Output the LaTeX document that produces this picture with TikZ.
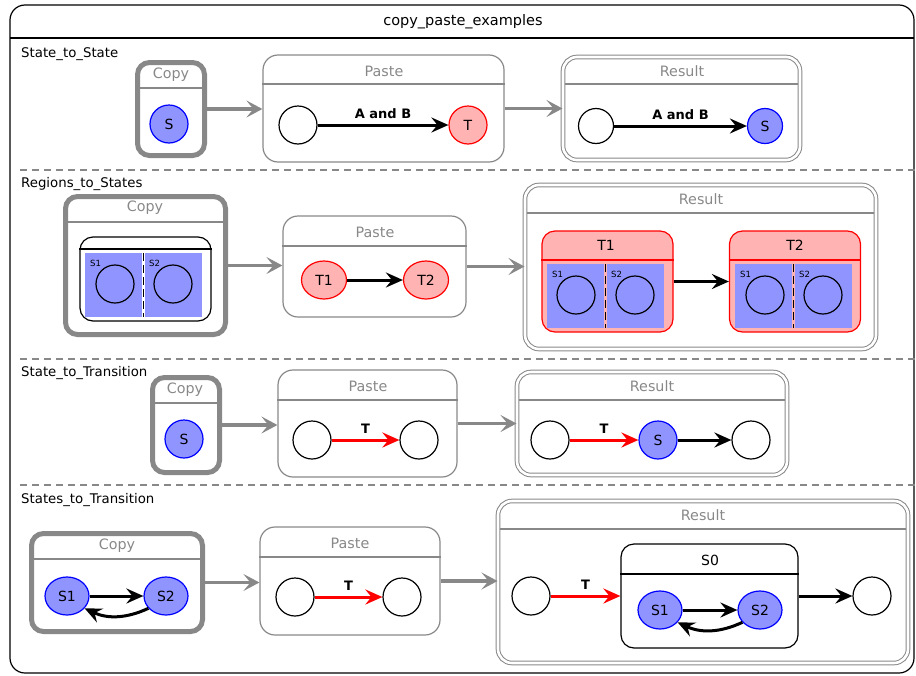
\documentclass[tikz,border=0pt]{standalone}
\usepackage{xcolor}
\usepackage{fontspec}
\setmainfont{DejaVu Sans}
\usepackage{tikz}
\usetikzlibrary{arrows.meta,shapes.geometric}
\definecolor{stblue}{RGB}{143,148,255}
\definecolor{stpink}{RGB}{255,179,179}
\definecolor{stgray}{RGB}{136,136,136}

\begin{document}
\begin{tikzpicture}[x=1pt,y=1pt]
        \tikzstyle{every node}+=[inner sep=0pt]
        \tikzstyle{titletext}=[font=\fontsize{14.5}{16}\selectfont]
        \tikzstyle{rowtext}=[anchor=base west, font=\fontsize{13.3}{15}\selectfont]
        \tikzstyle{hdr}=[text=stgray, font=\fontsize{14.3}{16}\selectfont]
        \tikzstyle{sttext}=[font=\fontsize{14}{15}\selectfont]
        \tikzstyle{regtext}=[anchor=west, font=\fontsize{8.5}{9}\selectfont]
        \tikzstyle{elabel}=[above=5pt, font=\bfseries\fontsize{13}{15}\selectfont]
        \tikzstyle{copybox}=[draw=stgray, line width=5pt, rounded corners=12pt]
        \tikzstyle{pastebox}=[draw=stgray, line width=1.2pt, rounded corners=15pt]
        \tikzstyle{resultbox}=[draw=stgray, line width=1pt, double=white, double distance=2.6pt, rounded corners=14pt]
        \tikzstyle{hdrline}=[stgray, line width=1.2pt]
        \tikzstyle{blankstate}=[circle, draw=black, fill=white, line width=1.2pt, minimum size=38pt]
        \tikzstyle{regcircle}=[circle, draw=black, line width=1.2pt, minimum size=38pt]
        \tikzstyle{bluestate}=[circle, draw=blue, fill=stblue, line width=1.2pt, minimum size=38pt, sttext]
        \tikzstyle{redstate}=[circle, draw=red, fill=stpink, line width=1.2pt, minimum size=38pt, sttext]
        \tikzstyle{blueell}=[ellipse, draw=blue, fill=stblue, line width=1.2pt, minimum width=44pt, minimum height=38pt, sttext]
        \tikzstyle{redell}=[ellipse, draw=red, fill=stpink, line width=1.2pt, minimum width=45pt, minimum height=38pt, sttext]
        \tikzstyle{redcomp}=[draw=red, fill=stpink, line width=1.2pt, rounded corners=13pt]
        \tikzstyle{blackcomp}=[draw=black, fill=white, line width=1.2pt, rounded corners=13pt]
        \tikzstyle{regsep}=[black, line width=1.2pt, dash pattern=on 8pt off 4pt]
        \tikzstyle{sep}=[stgray, line width=1.2pt, dash pattern=on 7pt off 5pt]
        \tikzstyle{trans}=[draw=black, line width=3pt, -{Stealth[length=17pt, width=15pt, inset=6pt]}]
        \tikzstyle{redtrans}=[trans, draw=red, fill=red]
        \tikzstyle{flow}=[draw=stgray, line width=3.5pt, -{Stealth[length=16pt, width=17pt, inset=7pt]}]
        \useasboundingbox (0,0) rectangle (916,-675);
        \draw [black, line width=1.2pt, rounded corners=15pt] (10,-5) rectangle (914,-673);
        \draw [black, line width=1.2pt] (10,-38) -- (914,-38);
        \node [titletext] (title) at (463,-22) {copy\_paste\_examples};
        \draw [sep] (20,-170) -- (916,-170);
        \draw [sep] (20,-359) -- (916,-359);
        \draw [sep] (20,-485) -- (916,-485);
        \node [rowtext] (rowA) at (21,-57) {State\_to\_State};
        \node [rowtext] (rowB) at (21,-187) {Regions\_to\_States};
        \node [rowtext] (rowC) at (21,-376) {State\_to\_Transition};
        \node [rowtext] (rowD) at (21,-503) {States\_to\_Transition};
        % State_to_State
        \node [copybox, minimum width=67pt, minimum height=93pt] (copyA) at (171,-109) {};
        \draw [hdrline] (copyA.west |- 0,-88) -- (copyA.east |- 0,-88);
        \node [hdr] (copyAt) at (171,-75) {Copy};
        \node [bluestate] (copyAs) at (169,-124) {S};
        \node [pastebox, minimum width=241pt, minimum height=107pt] (pasteA) at (383.5,-108.5) {};
        \draw [hdrline] (pasteA.west |- 0,-84) -- (pasteA.east |- 0,-84);
        \node [hdr] (pasteAt) at (384,-71) {Paste};
        \node [blankstate] (pasteAa) at (298,-125) {};
        \node [redstate] (pasteAb) at (468,-125) {T};
        \draw [trans] (pasteAa) -- node [elabel] {A and B} (pasteAb);
        \node [resultbox, minimum width=237pt, minimum height=103pt] (resA) at (681.5,-108.5) {};
        \draw [hdrline, shorten <=2.3pt, shorten >=2.3pt] (resA.west |- 0,-84) -- (resA.east |- 0,-84);
        \node [hdr] (resAt) at (682,-71) {Result};
        \node [blankstate, minimum size=35pt] (resAa) at (596,-126) {};
        \node [bluestate, minimum size=35pt] (resAb) at (765,-126) {S};
        \draw [trans] (resAa) -- node [elabel] {A and B} (resAb);
        \draw [flow] (copyA.east) -- (copyA.east -| pasteA.west);
        \draw [flow] (pasteA.east) -- (pasteA.east -| resA.west);
        % Regions_to_States
        \node [copybox, minimum width=160pt, minimum height=138pt] (copyB) at (145.5,-265.5) {};
        \draw [hdrline] (copyB.west |- 0,-222) -- (copyB.east |- 0,-222);
        \node [hdr] (copyBt) at (145,-208) {Copy};
        \node [blackcomp, minimum width=131pt, minimum height=84pt] (copyBr) at (145.5,-279) {};
        \draw [black, line width=1.2pt] (copyBr.west |- 0,-249) -- (copyBr.east |- 0,-249);
        \fill [stblue] (85,-253) rectangle (142,-317);
        \fill [stblue] (145,-253) rectangle (202,-317);
        \draw [regsep] (143.5,-253) -- (143.5,-317);
        \node [regtext] (copyBl1) at (90,-263) {S1};
        \node [regtext] (copyBl2) at (149,-263) {S2};
        \node [regcircle] (copyBc1) at (115,-284) {};
        \node [regcircle] (copyBc2) at (173,-284) {};
        \node [pastebox, minimum width=183pt, minimum height=101pt] (pasteB) at (374.5,-266.5) {};
        \draw [hdrline] (pasteB.west |- 0,-246) -- (pasteB.east |- 0,-246);
        \node [hdr] (pasteBt) at (375,-232) {Paste};
        \node [redell] (pasteBa) at (324,-280) {T1};
        \node [redell] (pasteBb) at (426,-280) {T2};
        \draw [trans] (pasteBa) -- (pasteBb);
        \node [resultbox, minimum width=351pt, minimum height=164pt] (resB) at (700.5,-267) {};
        \draw [hdrline, shorten <=2.3pt, shorten >=2.3pt] (resB.west |- 0,-213) -- (resB.east |- 0,-213);
        \node [hdr] (resBt) at (701,-199) {Result};
        \node [redcomp, minimum width=131pt, minimum height=101pt] (resBa) at (607.5,-281.5) {};
        \draw [red, line width=1.2pt] (resBa.west |- 0,-260) -- (resBa.east |- 0,-260);
        \node [sttext] (resBat) at (606,-245) {T1};
        \fill [stblue] (547,-264) rectangle (604,-328);
        \fill [stblue] (607,-264) rectangle (664,-328);
        \draw [regsep] (605.5,-264) -- (605.5,-328);
        \node [regtext] (resBal1) at (552,-274) {S1};
        \node [regtext] (resBal2) at (611,-274) {S2};
        \node [regcircle] (resBac1) at (576,-295) {};
        \node [regcircle] (resBac2) at (635,-295) {};
        \node [redcomp, minimum width=131pt, minimum height=101pt] (resBb) at (795,-281.5) {};
        \draw [red, line width=1.2pt] (resBb.west |- 0,-260) -- (resBb.east |- 0,-260);
        \node [sttext] (resBbt) at (795,-245) {T2};
        \fill [stblue] (735,-264) rectangle (792,-328);
        \fill [stblue] (795,-264) rectangle (852,-328);
        \draw [regsep] (793.5,-264) -- (793.5,-328);
        \node [regtext] (resBbl1) at (740,-274) {S1};
        \node [regtext] (resBbl2) at (799,-274) {S2};
        \node [regcircle] (resBbc1) at (765,-295) {};
        \node [regcircle] (resBbc2) at (823,-295) {};
        \draw [trans] (resBa) -- (resBb);
        \draw [flow] (copyB.east) -- (copyB.east -| pasteB.west);
        \draw [flow] (pasteB.east) -- (pasteB.east -| resB.west);
        % State_to_Transition
        \node [copybox, minimum width=67pt, minimum height=95pt] (copyC) at (186,-425) {};
        \draw [hdrline] (copyC.west |- 0,-403) -- (copyC.east |- 0,-403);
        \node [hdr] (copyCt) at (185,-390) {Copy};
        \node [bluestate] (copyCs) at (184,-439) {S};
        \node [pastebox, minimum width=179pt, minimum height=107pt] (pasteC) at (367.5,-423.5) {};
        \draw [hdrline] (pasteC.west |- 0,-400) -- (pasteC.east |- 0,-400);
        \node [hdr] (pasteCt) at (368,-386) {Paste};
        \node [blankstate] (pasteCa) at (312,-440) {};
        \node [blankstate] (pasteCb) at (419,-440) {};
        \draw [redtrans] (pasteCa) -- node [elabel] {T} (pasteCb);
        \node [resultbox, minimum width=270pt, minimum height=103pt] (resC) at (652,-423.5) {};
        \draw [hdrline, shorten <=2.3pt, shorten >=2.3pt] (resC.west |- 0,-400) -- (resC.east |- 0,-400);
        \node [hdr] (resCt) at (652,-386) {Result};
        \node [blankstate] (resCa) at (550,-440) {};
        \node [bluestate] (resCs) at (658,-440) {S};
        \node [blankstate] (resCb) at (751,-440) {};
        \draw [redtrans] (resCa) -- node [elabel] {T} (resCs);
        \draw [trans] (resCs) -- (resCb);
        \draw [flow] (copyC.east) -- (copyC.east -| pasteC.west);
        \draw [flow] (pasteC.east) -- (pasteC.east -| resC.west);
        % States_to_Transition
        \node [copybox, minimum width=171pt, minimum height=98pt] (copyD) at (117,-582.5) {};
        \draw [hdrline] (copyD.west |- 0,-559) -- (copyD.east |- 0,-559);
        \node [hdr] (copyDt) at (117,-546) {Copy};
        \node [blueell] (copyDa) at (67,-596) {S1};
        \node [blueell] (copyDb) at (166,-596) {S2};
        \draw [trans] (copyDa) -- (copyDb);
        \draw [trans] (copyDb.215) to [bend left=25] (copyDa.-35);
        \node [pastebox, minimum width=180pt, minimum height=108pt] (pasteD) at (350,-581) {};
        \draw [hdrline] (pasteD.west |- 0,-557) -- (pasteD.east |- 0,-557);
        \node [hdr] (pasteDt) at (350,-543) {Paste};
        \node [blankstate] (pasteDa) at (295,-597) {};
        \node [blankstate] (pasteDb) at (402,-597) {};
        \draw [redtrans] (pasteDa) -- node [elabel] {T} (pasteDb);
        \node [resultbox, minimum width=410pt, minimum height=162pt] (resD) at (703,-582) {};
        \draw [hdrline, shorten <=2.3pt, shorten >=2.3pt] (resD.west |- 0,-529) -- (resD.east |- 0,-529);
        \node [hdr] (resDt) at (703,-515) {Result};
        \node [blackcomp, minimum width=177pt, minimum height=104pt] (resDc) at (709.5,-596) {};
        \draw [black, line width=1.2pt] (resDc.west |- 0,-574) -- (resDc.east |- 0,-574);
        \node [sttext] (resDct) at (710,-560) {S0};
        \node [blueell] (resDca) at (660,-610) {S1};
        \node [blueell] (resDcb) at (760,-610) {S2};
        \draw [trans] (resDca) -- (resDcb);
        \draw [trans] (resDcb.215) to [bend left=25] (resDca.-35);
        \node [blankstate] (resDa) at (531,-596) {};
        \node [blankstate] (resDb) at (872,-596) {};
        \draw [redtrans] (resDa) -- node [elabel] {T} (resDc);
        \draw [trans] (resDc) -- (resDb);
        \draw [flow] (copyD.east) -- (copyD.east -| pasteD.west);
        \draw [flow] (pasteD.east) -- (pasteD.east -| resD.west);
    \end{tikzpicture}
\end{document}
